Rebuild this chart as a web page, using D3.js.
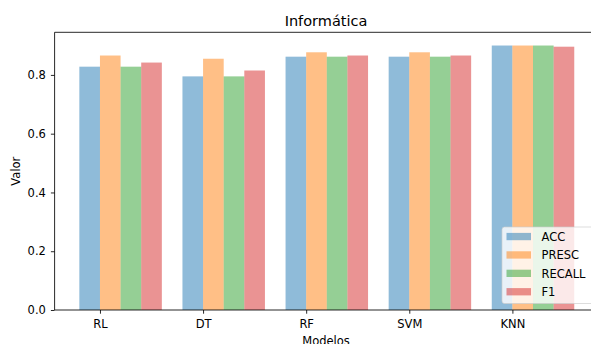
<!DOCTYPE html>
<html>
<head>
<meta charset="utf-8">
<script src="https://cdn.jsdelivr.net/npm/d3@7"></script>
<style>
  body { margin: 0; background: #fff; }
  text { font-family: "DejaVu Sans", sans-serif; fill: #000; }
</style>
</head>
<body>
<div id="chart"></div>
<script>
const models = ["RL", "DT", "RF", "SVM", "KNN"];
const metrics = ["ACC", "PRESC", "RECALL", "F1"];
const acc = [0.828, 0.795, 0.862, 0.862, 0.900];
const presc = [0.866, 0.855, 0.877, 0.877, 0.900];
const recall = [0.828, 0.795, 0.862, 0.862, 0.900];
const f1 = [0.842, 0.815, 0.866, 0.866, 0.896];
const yTicks = [0.0, 0.2, 0.4, 0.6, 0.8];

const series = [acc, presc, recall, f1];
const colors = ["#1f77b4", "#ff7f0e", "#2ca02c", "#d62728"];

const width = 591;
const height = 344;
const barW = 0.2;
const fontSize = "11.5px";

const svg = d3.select("#chart").append("svg")
    .attr("width", width)
    .attr("height", height);

/* Scales */
const x = d3.scaleLinear()
    .domain([-0.44, 4.84])
    .range([54.6, 599]);

const y = d3.scaleLinear()
    .domain([0, 0.945])
    .range([310, 32.3]);

/* Bars */
series.forEach(function(vals, k) {
    svg.append("g")
        .selectAll("rect")
        .data(vals).enter()
        .append("rect")
        .attr("x", (d, i) => x(i + (k - 1) * barW))
        .attr("width", x(barW) - x(0))
        .attr("y", d => y(d))
        .attr("height", d => y(0) - y(d))
        .attr("fill", colors[k])
        .attr("fill-opacity", 0.5);
});

/* Axes */
const xAxis = d3.axisBottom(x)
    .tickValues(d3.range(models.length))
    .tickFormat(i => models[i])
    .tickSize(3.7)
    .tickPadding(6.5);

const yAxis = d3.axisLeft(y)
    .tickValues(yTicks)
    .tickFormat(d3.format(".1f"))
    .tickSize(3.7)
    .tickPadding(5);

const gx = svg.append("g")
    .attr("transform", `translate(0, ${y(0)})`)
    .call(xAxis);

const gy = svg.append("g")
    .attr("transform", `translate(${x.range()[0]}, 0)`)
    .call(yAxis);

[gx, gy].forEach(function(g) {
    g.select(".domain").remove();
    g.selectAll("line").attr("stroke", "#000").attr("stroke-width", 0.85);
    g.selectAll("text")
        .style("font-family", "DejaVu Sans")
        .style("font-size", fontSize)
        .attr("fill", "#000");
});

/* Spines */
const spines = svg.append("g")
    .attr("stroke", "#000")
    .attr("stroke-width", 0.85);
spines.append("line")
    .attr("x1", x.range()[0]).attr("x2", x.range()[1])
    .attr("y1", y(0)).attr("y2", y(0));
spines.append("line")
    .attr("x1", x.range()[0]).attr("x2", x.range()[1])
    .attr("y1", y.range()[1]).attr("y2", y.range()[1]);
spines.append("line")
    .attr("x1", x.range()[0]).attr("x2", x.range()[0])
    .attr("y1", y(0)).attr("y2", y.range()[1]);

/* Title and labels */
svg.append("text")
    .attr("x", 326)
    .attr("y", 25.7)
    .attr("text-anchor", "middle")
    .style("font-size", "14.5px")
    .text("Informática");

svg.append("text")
    .attr("x", 326)
    .attr("y", 345)
    .attr("text-anchor", "middle")
    .style("font-size", fontSize)
    .text("Modelos");

svg.append("text")
    .attr("transform", `translate(19.5, ${(y(0) + y.range()[1]) / 2}) rotate(-90)`)
    .attr("text-anchor", "middle")
    .style("font-size", fontSize)
    .text("Valor");

/* Legend */
const legend = svg.append("g")
    .attr("transform", "translate(502, 227)");

legend.append("rect")
    .attr("width", 100)
    .attr("height", 76.5)
    .attr("rx", 2.5)
    .attr("fill", "#fff")
    .attr("fill-opacity", 0.8)
    .attr("stroke", "#cccccc")
    .attr("stroke-opacity", 0.8)
    .attr("stroke-width", 0.85);

const items = legend.selectAll(".item")
    .data(metrics).enter()
    .append("g")
    .attr("class", "item")
    .attr("transform", (d, i) => `translate(0, ${9.5 + i * 18.4})`);

items.append("rect")
    .attr("x", 4.5)
    .attr("y", -3.6)
    .attr("width", 24.5)
    .attr("height", 7.3)
    .attr("fill", (d, i) => colors[i])
    .attr("fill-opacity", 0.5);

items.append("text")
    .attr("x", 39.5)
    .attr("y", 4.2)
    .style("font-size", fontSize)
    .text(d => d);
</script>
</body>
</html>
